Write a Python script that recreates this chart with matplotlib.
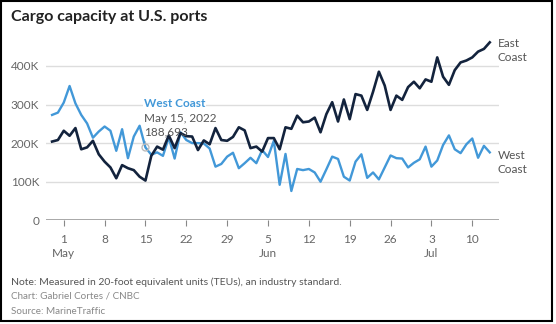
import matplotlib
matplotlib.use('Agg')
import matplotlib.pyplot as plt
import matplotlib.dates as mdates
import pandas as pd
from matplotlib.patches import Rectangle

plt.rcParams['font.family'] = ['Lato', 'DejaVu Sans']

# daily values in thousands of TEUs, Apr 29 - Jul 13 2022
dates = pd.date_range('2022-04-29', '2022-07-13', freq='D')
east = [204, 208, 232, 219, 239, 184, 189, 206, 171, 152,
        137, 109, 143, 135, 130, 113, 103, 167, 191, 183,
        220, 187, 226, 218, 217, 182, 207, 197, 239, 208,
        206, 216, 241, 233, 187, 191, 178, 213, 213, 184,
        241, 237, 271, 254, 256, 266, 228, 275, 306, 256,
        313, 262, 327, 323, 286, 333, 385, 349, 286, 323,
        312, 345, 359, 342, 365, 359, 422, 372, 351, 389,
        409, 414, 422, 437, 444, 461]
west = [273, 279, 305, 348, 303, 273, 251, 214, 230, 243,
        232, 180, 236, 161, 217, 245, 188.693, 170, 176, 167,
        215, 160, 228, 208, 200, 200, 199, 186, 139, 146,
        165, 175, 135, 148, 162, 148, 182, 164, 206, 92,
        172, 76, 133, 130, 133, 124, 100, 132, 165, 159,
        113, 103, 152, 171, 110, 124, 106, 137, 168, 161,
        160, 137, 149, 158, 191, 139, 155, 195, 220, 184,
        174, 197, 212, 162, 193, 176]
yticks = [0, 100, 200, 300, 400]
ytick_labels = ['0', '100K', '200K', '300K', '400K']
xticks = pd.date_range('2022-05-01', '2022-07-10', freq='7D')
xtick_labels = ['1\nMay', '8', '15', '22', '29', '5\nJun', '12', '19', '26', '3\nJul', '10']
hl_date = pd.Timestamp('2022-05-15')
hl_value = 188.693

W, H = 556, 324
def px(x, y):
    return x / W, 1 - y / H

fig = plt.figure(figsize=(W / 100, H / 100), dpi=100)
fig.patches.append(Rectangle((0.002, 0.008), 0.991, 0.988, transform=fig.transFigure,
                             fill=False, edgecolor='black', linewidth=1.5))

ax = fig.add_axes([46 / W, 0.320, 453 / W, 0.560])
east_c = '#13233d'
west_c = '#4298d8'
ax.plot(dates, west, color=west_c, lw=1.7, zorder=3)
ax.plot(dates, east, color=east_c, lw=1.9, zorder=4)
ax.plot([hl_date], [hl_value], 'o', ms=5, mfc='none', mec='#bbbbbb', mew=1, zorder=5)
ax.plot([hl_date, hl_date], [hl_value + 7, hl_value + 17], color='#cccccc', lw=0.8, zorder=2)

ax.set_ylim(0, 470)
ax.set_xlim(pd.Timestamp('2022-04-27 23:00'), pd.Timestamp('2022-07-14 14:00'))
ax.set_yticks(yticks)
ax.set_yticklabels(ytick_labels)
ax.set_xticks(xticks)
ax.set_xticklabels(xtick_labels, linespacing=1.3)
for y in yticks[1:]:
    ax.axhline(y, color='#dddddd', lw=1, zorder=1)
ax.axhline(0, color='#999999', lw=1.2, zorder=2)
for s in ax.spines.values():
    s.set_visible(False)
ax.tick_params(axis='y', length=0, pad=5, labelsize=8.5, labelcolor='#666666')
ax.tick_params(axis='x', length=4, width=0.8, color='#888888', pad=6,
               labelsize=8.5, labelcolor='#666666', direction='out')
for lab in ax.get_xticklabels():
    lab.set_verticalalignment('top')

# titles and labels
fig.text(*px(11, 17), 'Cargo capacity at U.S. ports', fontsize=11.5, fontweight='bold',
         color='#222222', va='center', ha='left')
fig.text(*px(498, 38), 'East\nCoast', fontsize=8.5, color='#555555', va='top', ha='left',
         linespacing=1.35)
fig.text(*px(498, 150), 'West\nCoast', fontsize=8.5, color='#555555', va='top', ha='left',
         linespacing=1.35)
fig.text(*px(144, 103.5), 'West Coast', fontsize=8.5, fontweight='bold', color=west_c,
         va='center', ha='left',
         bbox=dict(facecolor='white', edgecolor='none', pad=0.6))
fig.text(*px(144, 118), 'May 15, 2022', fontsize=8.5, color='#555555', va='center', ha='left')
fig.text(*px(144, 132), '188,693', fontsize=8.5, color='#555555', va='center', ha='left')

# footer
fig.text(*px(11, 282), 'Note: Measured in 20-foot equivalent units (TEUs), an industry standard.',
         fontsize=7.5, color='#555555', va='center', ha='left')
fig.text(*px(11, 296), 'Chart: Gabriel Cortes / CNBC', fontsize=7.1, color='#888888',
         va='center', ha='left')
fig.text(*px(11, 311), 'Source: MarineTraffic', fontsize=7.1, color='#888888',
         va='center', ha='left')

plt.savefig('out.png', dpi=100)
